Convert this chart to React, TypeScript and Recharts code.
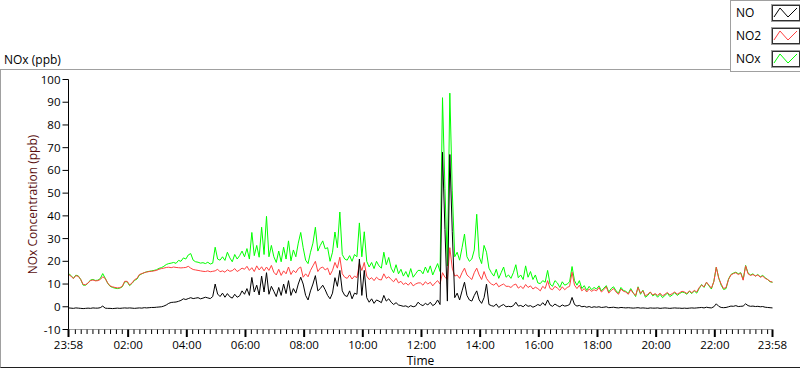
import React from 'react';
import { LineChart, Line, XAxis, YAxis, Legend } from 'recharts';

// values every 5 minutes from 23:58 to 23:58 next day, one row per hour
const noValues = [
  -0.5, -0.6, -0.7, -0.5, -0.6, -0.7, -0.8, -0.7, -0.6, -0.7, -0.5, -0.6,
  -0.6, -0.4, 0.3, -0.6, -0.7, -0.7, -0.8, -0.7, -0.6, -0.7, -0.6, -0.5,
  -0.6, -0.5, -0.6, -0.7, -0.6, -0.5, -0.6, -0.4, -0.5, -0.4, -0.3, -0.3,
  -0.2, -0.1, 0, 0.3, 0.8, 1.5, 1.9, 2, 2.1, 2.4, 2.8, 3.5,
  3.2, 3.6, 4, 3.6, 3.8, 4, 3.5, 3.8, 4.2, 3.9, 3.6, 4.5,
  10, 5.6, 4.5, 6, 4.2, 5.8, 4.4, 3.8, 5.5, 4.2, 4.8, 7,
  5.5, 8, 5, 12.9, 6.5, 9.5, 5.2, 13.5, 6.5, 15, 5.5, 9,
  6.8, 4.5, 8.5, 5, 10, 5.8, 11.5, 5, 8, 6, 10, 13,
  10, 5, 3, 7, 10, 13.7, 7, 8, 9.5, 7.5, 5, 3.5,
  6, 12.8, 9, 16, 7, 5, 4.5, 7, 3.5, 6, 5.5, 21,
  5, 16, 4, 2, 3.5, 1.5, 3, 2.5, 1.8, 5, 2.5, 3.5,
  2, 1, 1.8, 0.8, 0.5, 0.2, 0.4, -0.2, 0.5, 0, 0.3, 2,
  1, 0.5, 1.5, 0.8, 2, 0.5, 1.2, 3, 1, 68, 34, 2.5,
  67, 33, 4, 6, 3, 7, 10.8, 5, 3, 2.5, 5, 7,
  3, 1.5, 4, 10, 1, 0.5, 0.2, 1.2, -0.3, 0.5, 1, 0,
  0.2, 0, 0.5, 2, 0.3, 0.6, 0, 1, 0.2, 0.5, -0.2, 0.3,
  1, 0.5, 1.8, 0.6, 3, 0.8, 0.2, 1.2, 0.5, 0, 0.8, 0.3,
  0.5, 1, 4.1, 1, 0.3, 0.6, 0, 0.2, -0.2, 0.1, -0.3, 0,
  -0.2, 0, -0.3, -0.2, 0, -0.4, -0.3, -0.2, -0.4, -0.5, -0.3, -0.4,
  -0.5, -0.4, -0.5, -0.6, -0.5, -0.4, -0.6, -0.5, -0.6, -0.7, -0.5, -0.6,
  -0.6, -0.5, -0.7, -0.6, -0.5, -0.6, -0.7, -0.6, -0.5, -0.6, -0.6, -0.7,
  -0.6, -0.7, -0.6, -0.5, -0.6, -0.5, -0.4, -0.3, -0.5, -0.2, -0.4, -0.5,
  0, 1.3, 0.2, -0.3, -0.4, -0.3, 0, 0.3, 0.2, 0.5, 0.1, 0.2,
  0.3, 1.3, 0.5, 0.2, 0.3, 0.1, 0.2, 0, 0.1, -0.2, -0.3, -0.4,
  -0.5,
];

const no2Values = [
  14.2, 13.5, 12.4, 13.7, 13.4, 12, 9.8, 9.7, 10.5, 11.5, 11.8, 11.4,
  11.5, 12, 13.2, 12.5, 10.5, 9.2, 8.8, 8.5, 8.3, 8.4, 9, 11.2,
  11.2, 9.6, 10.5, 11.9, 12.5, 14.2, 14.6, 15, 15.3, 15.5, 15.6, 15.8,
  16, 16.5, 16.8, 17, 17.3, 17.4, 17.2, 17.5, 17.3, 17.2, 17.1, 17.2,
  17.3, 17.8, 17, 16.4, 16.2, 16, 15.8, 15.6, 15.5, 15.8, 15.4, 15.6,
  15.8, 16.5, 15.4, 15.8, 15.2, 16.3, 15.6, 15.9, 16.8, 15.5, 16.2, 17,
  16.5, 17.8, 16, 17.2, 15.5, 18, 16.2, 17.6, 15.8, 17.5, 16, 18.2,
  15.2, 14, 16.5, 13.8, 15.8, 14.5, 17.5, 14.2, 16, 15, 16.8, 17.5,
  13, 14.5, 13.2, 16, 18, 20, 15.5, 17, 17.5, 16.2, 17, 14,
  16, 19.5, 17, 21.8, 14.5, 13, 12.5, 14, 12.2, 13.5, 12.8, 19,
  16, 19.5, 13.5, 12, 12.8, 11.5, 13, 12, 11.8, 14.5, 12.5, 13.2,
  12, 11, 12.5, 10.5, 11.2, 9.8, 10.5, 9.5, 10.8, 9.2, 10, 10.5,
  10.5, 9.5, 11, 10, 10.8, 9.2, 10.5, 11.5, 10, 15, 13, 12,
  26, 17, 13.5, 14, 12.5, 15, 17, 14, 13, 12, 15, 17,
  14, 12, 15.5, 12.5, 11, 10, 9.5, 10.5, 8.8, 9.5, 10, 9,
  9, 8.5, 9.5, 10, 8.2, 9, 8, 9.8, 8.5, 9.2, 7.8, 8.6,
  8, 7, 9, 8, 11.5, 8, 7.5, 9, 8.2, 7.2, 8.8, 7.5,
  8.5, 9, 15.2, 9.5, 8, 9.5, 7, 8, 6.5, 7.8, 6.8, 7.5,
  7, 8.5, 6.5, 7.5, 8.8, 6, 7.2, 8, 6.5, 5.5, 7.8, 6.8,
  6.5, 5.5, 7.5, 6, 5, 8.5, 6, 7, 4.8, 5.5, 6.5, 5.2,
  5.8, 5, 6, 4.8, 5.5, 6.3, 5.2, 5.8, 6.5, 5.5, 6.2, 6.8,
  6.5, 5.8, 7, 6.2, 7.2, 6.5, 8.5, 9.5, 8.8, 10.8, 9.5, 8.2,
  11, 17.4, 12.5, 10, 8, 8.5, 12, 14, 14.6, 15, 14.2, 14.8,
  11.7, 18, 14.5, 13.8, 14.2, 13.5, 14, 13, 13.5, 12.5, 12, 11.2,
  10.8,
];

const noxValues = [
  14.6, 13.8, 12.5, 13.9, 13.6, 12, 9.5, 9.5, 10.4, 11.8, 12, 11.6,
  11.7, 12.4, 14.6, 12.6, 10.4, 9, 8.5, 8.2, 8, 8.2, 8.8, 11,
  11, 9.3, 10.3, 11.6, 12.2, 13.9, 14.5, 15, 15.4, 15.6, 15.8, 16,
  16.3, 16.9, 17.2, 17.8, 18.6, 19, 19.2, 19.5, 19.1, 20.4, 20, 21.5,
  21, 22.8, 23.4, 20.5, 19.8, 19.6, 19.2, 19.4, 19, 19.6, 18.8, 19.2,
  26.2, 21, 20.5, 22, 20.4, 24, 21.5, 19.8, 23, 21, 22.5, 24.5,
  22, 25.6, 21, 32.7, 22.5, 27, 21.8, 35, 23, 39.8, 22, 27,
  22, 19.5, 24.5, 19.8, 26.2, 21, 29, 20.2, 25, 22, 28, 32.7,
  26, 20.5, 19, 24, 28, 35, 24.5, 27, 29, 25.5, 26, 20,
  24, 32.9, 26, 41.7, 23, 21, 20.5, 22.5, 20, 23, 22, 36.9,
  22, 33, 20, 17.5, 19.5, 16.8, 20, 18, 17, 24, 18.5, 21.7,
  17, 15, 18.5, 14.5, 16.5, 13.5, 15.5, 13, 16.8, 13, 14.5, 16,
  16, 14.5, 17.5, 15, 18, 14, 16.5, 19, 15.5, 92, 52, 18,
  94, 51, 22, 24, 20.5, 26, 32, 22, 20, 21, 25, 40.7,
  22, 19, 27, 24, 17, 15, 13.5, 16.5, 12.5, 15, 17.5, 13,
  14, 12.5, 15, 18.5, 12.8, 14, 12, 18, 13, 15.5, 12, 14,
  10.5, 10.2, 11.5, 10.8, 16, 10, 9, 11.5, 10.5, 8.5, 11, 9.5,
  10, 11, 17.7, 11.5, 9.5, 11.5, 8, 9.3, 7.2, 9, 7.5, 8.5,
  7.8, 9.2, 7, 8.2, 9.3, 6.5, 8, 8.8, 7, 6, 8.5, 7.2,
  6.8, 5.8, 8, 6.2, 4.5, 8.8, 5.5, 7.3, 4.2, 5, 6.5, 4.8,
  5.5, 4.2, 5.5, 4, 5, 6, 4.5, 5.2, 6.2, 5, 5.8, 6.5,
  6.2, 5.5, 6.8, 5.8, 7, 6, 8, 9.8, 8.5, 10.8, 9.2, 7.8,
  11.2, 17.4, 12.8, 9.5, 7.6, 8, 12.2, 14.2, 14.8, 15.2, 14.5, 15,
  12, 18.2, 14.8, 14, 14.5, 13.5, 14.2, 13.2, 13.8, 12.8, 12, 11,
  10.8,
];

// x axis: minutes after 23:58
const majorTicks = [0, 122, 242, 362, 482, 602, 722, 842, 962, 1082, 1202, 1322, 1440];
const majorLabels = ['23:58', '02:00', '04:00', '06:00', '08:00', '10:00', '12:00', '14:00', '16:00', '18:00', '20:00', '22:00', '23:58'];
const minorTicks: number[] = [];
for (let m = 14; m < 1440; m += 12) {
  if (!majorTicks.includes(m)) minorTicks.push(m);
}
const allTicks = [...majorTicks, ...minorTicks].sort((a, b) => a - b);

const yTicks = [-10, 0, 10, 20, 30, 40, 50, 60, 70, 80, 90, 100];

const legendOrder = ['NO', 'NO2', 'NOx'];

const data = noValues.map((v, i) => ({
  t: i * 5,
  no: v,
  no2: no2Values[i],
  nox: noxValues[i],
}));

const FONT = '"Open Sans", "Noto Sans", sans-serif';

const TimeTick = (props: any) => {
  const { x, y, payload } = props;
  const idx = majorTicks.indexOf(payload.value);
  const isMajor = idx >= 0;
  return (
    <g>
      <line x1={x} x2={x} y1={y} y2={y + (isMajor ? 7.5 : 4.5)} stroke="#000" strokeWidth={isMajor ? 2 : 1} />
      {isMajor && (
        <text x={x} y={y + 19} textAnchor="middle" fontSize={11.5} fontFamily={FONT} fill="#000">
          {majorLabels[idx]}
        </text>
      )}
    </g>
  );
};

const Swatch = ({ color }: { color: string }) => (
  <svg width={30} height={18} style={{ display: 'block' }}>
    <rect x={0.5} y={0.5} width={29} height={17} fill="#fff" stroke="#a0a0a0" />
    <rect x={1.5} y={1.5} width={27} height={15} fill="#fff" stroke="#303030" />
    <polyline points="3,13 9,4 17,13 26,4" fill="none" stroke={color} strokeWidth={1} />
  </svg>
);

const LegendBox = (props: any) => {
  const items = [...(props.payload || [])].sort(
    (a: any, b: any) => legendOrder.indexOf(a.value) - legendOrder.indexOf(b.value)
  );
  return (
    <div style={{ width: 70, height: 72, border: '1px solid #a0a0a0', borderRight: 'none', boxSizing: 'border-box', background: '#fff', fontFamily: FONT, fontSize: 12 }}>
      {items.map((it: any) => (
        <div key={it.value} style={{ display: 'flex', alignItems: 'center', height: 23 }}>
          <span style={{ width: 37, paddingLeft: 5, color: '#000' }}>{it.value}</span>
          <Swatch color={it.color} />
        </div>
      ))}
    </div>
  );
};

export default function App() {
  return (
    <div style={{ position: 'absolute', left: 0, top: 0, width: 800, height: 369, overflow: 'hidden', background: '#fff' }}>
      <div style={{ position: 'absolute', left: 0, top: 69, width: 800, height: 299, borderTop: '1px solid #a0a0a0', borderLeft: '1px solid #a0a0a0', borderBottom: '1px solid #202020', boxSizing: 'border-box' }} />
      <div style={{ position: 'absolute', left: 4, top: 51, fontFamily: FONT, fontSize: 12, color: '#000' }}>NOx (ppb)</div>
      <div style={{ position: 'absolute', left: 0, top: 0 }}>
        <LineChart width={800} height={369} data={data} margin={{ top: 79.5, right: 27.5, left: 0, bottom: 0 }}>
          <XAxis
            dataKey="t"
            type="number"
            domain={[0, 1440]}
            ticks={allTicks}
            interval={0}
            height={39.5}
            tickSize={0}
            tickMargin={0}
            tickLine={false}
            tick={<TimeTick />}
            axisLine={{ stroke: '#a0a0a0' }}
            label={{ value: 'Time', position: 'insideBottom', offset: 4, fontSize: 12, fontFamily: FONT, fill: '#000' }}
          />
          <XAxis xAxisId="top" orientation="top" dataKey="t" type="number" domain={[0, 1440]} height={0} tick={false} tickLine={false} axisLine={{ stroke: '#000' }} />
          <YAxis
            type="number"
            domain={[-10, 100]}
            ticks={yTicks}
            interval={0}
            width={68.5}
            tickSize={6}
            tickMargin={2}
            tickLine={{ stroke: '#000' }}
            axisLine={{ stroke: '#000' }}
            tick={{ fontSize: 11.5, fontFamily: FONT, fill: '#000' }}
            label={{
              content: (p: any) => {
                const vb = p.viewBox;
                const cx = 32;
                const cy = vb.y + vb.height / 2;
                return (
                  <text x={cx} y={cy} transform={`rotate(-90 ${cx} ${cy})`} textAnchor="middle" dominantBaseline="central" fontSize={12} fontFamily={FONT} fill="#5a1010">
                    NOx Concentration (ppb)
                  </text>
                );
              },
            }}
          />
          <YAxis yAxisId="right" orientation="right" width={0} domain={[-10, 100]} tick={false} tickLine={false} axisLine={{ stroke: '#a0a0a0' }} />
          <Legend
            layout="horizontal"
            verticalAlign="middle"
            align="center"
            content={<LegendBox />}
            wrapperStyle={{ position: 'absolute', left: 730, top: 0, width: 70, height: 72 }}
          />
          <Line dataKey="nox" name="NOx" stroke="#00ff00" strokeWidth={1} dot={false} isAnimationActive={false} />
          <Line dataKey="no2" name="NO2" stroke="#ff4040" strokeWidth={1} dot={false} isAnimationActive={false} />
          <Line dataKey="no" name="NO" stroke="#000000" strokeWidth={1} dot={false} isAnimationActive={false} />
        </LineChart>
      </div>
    </div>
  );
}
